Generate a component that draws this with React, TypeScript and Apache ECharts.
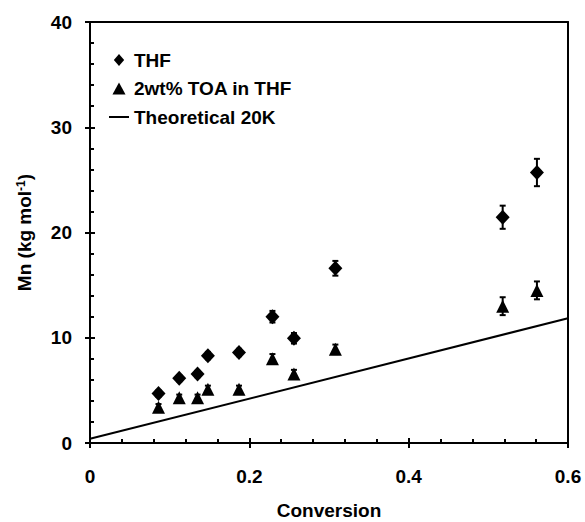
import React, { useEffect, useRef } from "react";
import * as echarts from "echarts";

const conversion = [0.086, 0.112, 0.135, 0.148, 0.187, 0.229, 0.256, 0.308, 0.518, 0.561];
const mnTHF = [4.7, 6.15, 6.55, 8.3, 8.6, 12.0, 9.95, 16.6, 21.45, 25.7];
const errTHF = [0.3, 0.3, 0.3, 0.35, 0.35, 0.55, 0.5, 0.7, 1.1, 1.3];
const mnTOA = [3.4, 4.3, 4.3, 5.1, 5.1, 8.0, 6.55, 8.9, 13.0, 14.5];
const errTOA = [0.3, 0.3, 0.3, 0.35, 0.35, 0.45, 0.4, 0.45, 0.85, 0.85];
const theoryX = [0, 0.6];
const theoryY = [0.4, 11.85];
const seriesNames = ["THF", "2wt% TOA in THF", "Theoretical 20K"];

const FONT = "'Liberation Sans', Arial, Helvetica, sans-serif";

export default function App() {
  const ref = useRef<HTMLDivElement>(null);
  useEffect(() => {
    if (!ref.current) return;
    document.body.style.margin = "0";
    document.body.style.overflow = "hidden";
    const chart = echarts.init(ref.current, null, { renderer: "svg" });
    const labelStyle = { color: "#000", fontSize: 19, fontWeight: "bold" as const, fontFamily: FONT };
    const errRender = (params: any, api: any) => {
      const x = api.value(0);
      const y = api.value(1);
      const e = api.value(2);
      const top = api.coord([x, y + e]);
      const bot = api.coord([x, y - e]);
      const w = 3;
      const st = { stroke: "#000", lineWidth: 2 };
      return {
        type: "group",
        children: [
          { type: "line", shape: { x1: top[0], y1: top[1], x2: bot[0], y2: bot[1] }, style: st },
          { type: "line", shape: { x1: top[0] - w, y1: top[1], x2: top[0] + w, y2: top[1] }, style: st },
          { type: "line", shape: { x1: bot[0] - w, y1: bot[1], x2: bot[0] + w, y2: bot[1] }, style: st },
        ],
      };
    };
    const lineSt = { color: "#000", width: 2 };
    const xRange = { type: "value" as const, min: 0, max: 0.6, interval: 0.2, splitLine: { show: false } };
    const yRange = { type: "value" as const, min: 0, max: 40, interval: 10, splitLine: { show: false } };
    chart.setOption({
      animation: false,
      backgroundColor: "#fff",
      textStyle: { fontFamily: FONT },
      grid: {
        left: 90,
        right: 17,
        top: 22,
        bottom: 79,
        show: false,
        outerBoundsMode: "none",
      },
      legend: {
        orient: "vertical",
        left: 109,
        top: 50,
        itemWidth: 20,
        itemHeight: 12,
        itemGap: 8.5,
        padding: 0,
        textStyle: { ...labelStyle, lineHeight: 20 },
        data: [
          { name: seriesNames[0], icon: "path://M6,0L12,7L6,14L0,7Z" },
          { name: seriesNames[1], icon: "path://M6,0L12,11L0,11Z" },
          { name: seriesNames[2], icon: "path://M0,0L20,0L20,2L0,2Z" },
        ],
      },
      xAxis: [
        {
          ...xRange,
          position: "bottom",
          axisLine: { show: true, onZero: false, lineStyle: lineSt },
          axisTick: { show: true, inside: true, length: 5, lineStyle: lineSt },
          minorTick: { show: true, splitNumber: 5, length: 4, lineStyle: lineSt },
          axisLabel: { ...labelStyle, margin: 24, formatter: (v: number) => (v === 0 ? "0" : String(v)) },
          name: "Conversion",
          nameLocation: "middle",
          nameGap: 58,
          nameTextStyle: labelStyle,
        },
        {
          ...xRange,
          position: "bottom",
          axisLine: { show: false, onZero: false },
          axisTick: { show: true, inside: false, length: 5, lineStyle: lineSt },
          axisLabel: { show: false },
        },
        {
          ...xRange,
          position: "top",
          axisLine: { show: true, onZero: false, lineStyle: lineSt },
          axisTick: { show: false },
          axisLabel: { show: false },
        },
      ],
      yAxis: [
        {
          ...yRange,
          position: "left",
          axisLine: { show: true, onZero: false, lineStyle: lineSt },
          axisTick: { show: true, inside: true, length: 5, lineStyle: lineSt },
          minorTick: { show: true, splitNumber: 5, length: 4, lineStyle: lineSt },
          axisLabel: { ...labelStyle, margin: 18 },
          name: "{a|Mn (kg mol}{s|-1}{a|)}",
          nameLocation: "middle",
          nameGap: 56,
          nameRotate: 90,
          nameTextStyle: {
            ...labelStyle,
            rich: {
              a: { ...labelStyle },
              s: { ...labelStyle, fontSize: 12, verticalAlign: "top", lineHeight: 12, padding: [0, 0, 8, 0] },
            },
          },
        },
        {
          ...yRange,
          position: "left",
          axisLine: { show: false, onZero: false },
          axisTick: { show: true, inside: false, length: 5, lineStyle: lineSt },
          axisLabel: { show: false },
        },
        {
          ...yRange,
          position: "right",
          axisLine: { show: true, onZero: false, lineStyle: lineSt },
          axisTick: { show: false },
          axisLabel: { show: false },
        },
      ],
      series: [
        {
          name: seriesNames[2],
          type: "line",
          data: theoryX.map((x, i) => [x, theoryY[i]]),
          showSymbol: false,
          symbol: "none",
          lineStyle: { color: "#000", width: 2 },
          itemStyle: { color: "#000" },
          z: 2,
        },
        {
          name: "errTHF",
          type: "custom",
          renderItem: errRender,
          data: conversion.map((x, i) => [x, mnTHF[i], errTHF[i]]),
          z: 3,
        },
        {
          name: "errTOA",
          type: "custom",
          renderItem: errRender,
          data: conversion.map((x, i) => [x, mnTOA[i], errTOA[i]]),
          z: 3,
        },
        {
          name: seriesNames[0],
          type: "scatter",
          symbol: "diamond",
          symbolSize: [14, 15],
          data: conversion.map((x, i) => [x, mnTHF[i]]),
          itemStyle: { color: "#000", opacity: 1 },
          z: 4,
        },
        {
          name: seriesNames[1],
          type: "scatter",
          symbol: "triangle",
          symbolSize: [13, 13],
          data: conversion.map((x, i) => [x, mnTOA[i]]),
          itemStyle: { color: "#000", opacity: 1 },
          z: 4,
        },
      ],
    });
    return () => chart.dispose();
  }, []);
  return (
    <div
      ref={ref}
      style={{ position: "absolute", left: 0, top: 0, width: 585, height: 522 }}
    />
  );
}
